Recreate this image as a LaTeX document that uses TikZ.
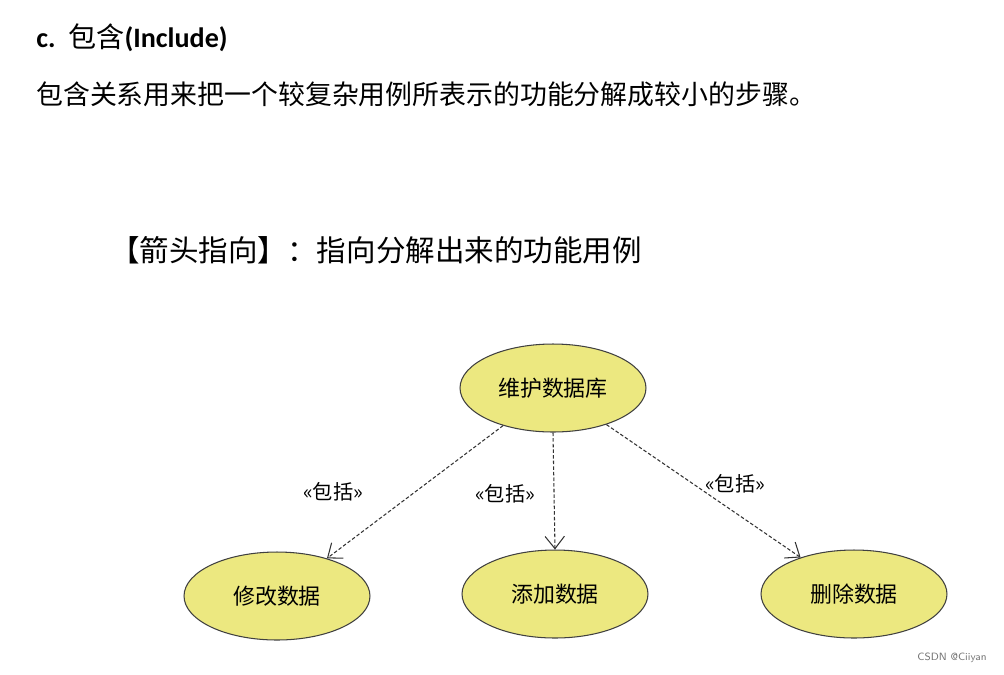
\documentclass[tikz,border=0pt]{standalone}
\usepackage{fontspec}
\setmainfont{Carlito}
\newfontfamily\cjk{Noto Sans CJK SC}
\usetikzlibrary{arrows.meta, shapes.geometric}
\definecolor{caseyellow}{RGB}{236,232,128}

\begin{document}
\begin{tikzpicture}[x=0.02cm, y=-0.02cm, >={Straight Barb[length=7pt,width=11pt]},
    usecase/.style={ellipse, draw=black!75, line width=0.6pt, fill=caseyellow, minimum width=3.72cm, minimum height=1.76cm, inner sep=0pt, font=\cjk\fontsize{12.5}{14}\selectfont},
    incl/.style={->, line width=0.6pt, dash pattern=on 2pt off 1.2pt, black!80},
    stereo/.style={font=\cjk\fontsize{11.5}{13}\selectfont}]
    \useasboundingbox (0,0) rectangle (1004,674);
    % heading and text
    \node[anchor=west, inner sep=0pt, font=\bfseries\fontsize{16}{19}\selectfont] (title) at (36,38) {c.\ \ {\cjk\mdseries 包含}(Include)};
    \node[anchor=west, inner sep=0pt, font=\cjk\fontsize{15.3}{18}\selectfont] (intro) at (36,94) {包含关系用来把一个较复杂用例所表示的功能分解成较小的步骤。};
    \node[anchor=west, inner sep=0pt, font=\cjk\fontsize{16.8}{20}\selectfont] (hint) at (110,250) {【箭头指向】：指向分解出来的功能用例};
    % use cases
    \node[usecase] (db) at (553,388) {维护数据库};
    \node[usecase] (edit) at (277,596) {修改数据};
    \node[usecase] (add) at (555,594) {添加数据};
    \node[usecase] (del) at (854,594) {删除数据};
    % include relations
    \draw[incl] (db) -- (edit);
    \draw[incl] (db.south) -- (add.north);
    \draw[incl] (db) -- (del);
    \node[stereo] (l1) at (333,492) {«包括»};
    \node[stereo] (l2) at (505,494) {«包括»};
    \node[stereo] (l3) at (735,484) {«包括»};
    \node[font=\sffamily\fontsize{6}{7}\selectfont, text=black!55] (mark) at (952,658) {CSDN @Ciiyan};
\end{tikzpicture}
\end{document}
